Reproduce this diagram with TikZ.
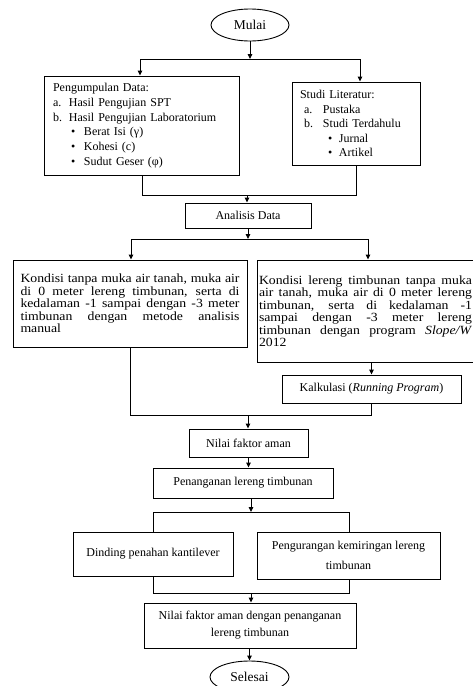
\documentclass[tikz,border=0pt]{standalone}
\usepackage{fontspec}
\setmainfont{Liberation Serif}
\newfontfamily\widefont{Liberation Serif}[FakeStretch=1.1]
\usetikzlibrary{shapes.geometric,arrows.meta}

\begin{document}
\begin{tikzpicture}[x=1pt,y=-1pt,
  line width=0.9pt,
  box/.style={draw, rectangle, inner sep=0pt, font=\fontsize{12}{14}\selectfont, align=center},
  term/.style={draw, ellipse, inner sep=0pt, font=\fontsize{13.5}{16}\selectfont},
  bigbox/.style={draw, rectangle, inner sep=0pt, text width=219pt, align=justify, font=\widefont\fontsize{12.5}{12.5}\selectfont},
  arr/.style={-{Triangle[length=5pt,width=4.5pt]}},
  ]
\useasboundingbox (0,0) rectangle (473,686);
\clip (0,0) rectangle (473,686);

\node[term, minimum width=78pt, minimum height=32pt] (mulai) at (250,25) {Mulai};

\node[box, minimum width=195pt, minimum height=99pt, text width=177pt, align=left,
      font=\fontsize{12}{14.7}\selectfont] (data) at (141.5,125.5)
 {Pengumpulan Data:\\
  \makebox[16pt][l]{a.}Hasil Pengujian SPT\\
  \makebox[16pt][l]{b.}Hasil Pengujian Laboratorium\\
  \hspace*{18pt}\makebox[13pt][l]{\textbullet}Berat Isi (γ)\\
  \hspace*{18pt}\makebox[13pt][l]{\textbullet}Kohesi (c)\\
  \hspace*{18pt}\makebox[13pt][l]{\textbullet}Sudut Geser (φ)};

\node[box, minimum width=128pt, minimum height=83pt, text width=112pt, align=left,
      font=\fontsize{12}{14.5}\selectfont] (lit) at (356,123.5)
 {Studi Literatur:\\
  \hspace*{4pt}\makebox[19pt][l]{a.}Pustaka\\
  \hspace*{4pt}\makebox[19pt][l]{b.}Studi Terdahulu\\
  \hspace*{28pt}\makebox[11pt][l]{\textbullet}Jurnal\\
  \hspace*{28pt}\makebox[11pt][l]{\textbullet}Artikel};

\node[box, minimum width=126pt, minimum height=25pt] (analisis) at (248,215.5) {Analisis Data};

\node[bigbox, minimum width=234pt, minimum height=87pt] (manual) at (130,303.5)
 {Kondisi tanpa muka air tanah, muka air\linebreak
  di 0 meter lereng timbunan, serta di\linebreak
  kedalaman -1 sampai dengan -3 meter\linebreak
  timbunan dengan metode analisis\linebreak
  manual};

\node[draw, rectangle, inner sep=0pt, minimum height=102pt,
      font=\widefont\fontsize{12.5}{12.5}\selectfont] (slope) at (369.5,311)
 {\hspace*{2pt}\begin{minipage}{213pt}
  Kondisi lereng timbunan tanpa muka\linebreak
  air tanah, muka air di 0 meter lereng\linebreak
  timbunan, serta di kedalaman -1\linebreak
  sampai dengan -3 meter lereng\linebreak
  timbunan dengan program \textit{Slope/W}\linebreak
  2012\end{minipage}\hspace*{10pt}};

\node[box, minimum width=179pt, minimum height=28pt] (kalk) at (371.5,389) {Kalkulasi (\textit{Running Program})};
\node[box, minimum width=119pt, minimum height=28pt] (nfa) at (248.5,443) {Nilai faktor aman};
\node[box, minimum width=180pt, minimum height=30pt] (pen) at (243,483) {Penanganan lereng timbunan};
\node[box, minimum width=160pt, minimum height=44pt] (dind) at (153,554) {Dinding penahan kantilever};
\node[box, minimum width=183pt, minimum height=47pt, font=\fontsize{12}{20}\selectfont] (peng) at (348.5,555.5)
 {Pengurangan kemiringan lereng\\timbunan};
\node[box, minimum width=212pt, minimum height=45pt, font=\fontsize{12}{17}\selectfont] (nfa2) at (250,625.5)
 {Nilai faktor aman dengan penanganan\\lereng timbunan};
\node[term, minimum width=79pt, minimum height=32pt] (selesai) at (249.5,677) {Selesai};

% split 1
\coordinate (j1) at (250,59);
\coordinate (j1l) at (140,59);
\coordinate (j1r) at (360,59);
\draw[arr] (mulai.south) -- (j1);
\draw (j1l) -- (j1r);
\draw[arr] (j1l) -- (j1l |- data.north);
\draw[arr] (j1r) -- (j1r |- lit.north);

% merge 1
\coordinate (j2) at (247,195);
\coordinate (j2l) at (142,195);
\coordinate (j2r) at (356,195);
\draw (j2l |- data.south) -- (j2l) -- (j2r) -- (j2r |- lit.south);
\draw[arr] (j2) -- (j2 |- analisis.north);

% split 2
\coordinate (j3) at (248,239);
\coordinate (j3l) at (131,239);
\coordinate (j3r) at (368,239);
\draw[arr] (analisis.south) -- (j3);
\draw (j3l) -- (j3r);
\draw[arr] (j3l) -- (j3l |- manual.north);
\draw[arr] (j3r) -- (j3r |- slope.north);

\draw[arr] (kalk.north |- slope.south) -- (kalk.north);

% merge 2
\coordinate (j4) at (248,415);
\coordinate (j4l) at (130,415);
\coordinate (j4r) at (371,415);
\draw (j4l |- manual.south) -- (j4l) -- (j4r) -- (j4r |- kalk.south);
\draw[arr] (j4) -- (j4 |- nfa.north);

\draw[arr] (nfa.south) -- (nfa.south |- pen.north);

% split 3
\coordinate (j5) at (251,512);
\coordinate (j5l) at (153,512);
\coordinate (j5r) at (349,512);
\draw[arr] (j5 |- pen.south) -- (j5);
\draw (j5l) -- (j5r);
\draw (j5l) -- (j5l |- dind.north);
\draw (j5r) -- (j5r |- peng.north);

% merge 3
\coordinate (j6) at (251,593);
\coordinate (j6l) at (153,593);
\coordinate (j6r) at (349,593);
\draw (j6l |- dind.south) -- (j6l) -- (j6r) -- (j6r |- peng.south);
\draw[arr] (j6) -- (j6 |- nfa2.north);

\draw[arr] (nfa2.south -| selesai.north) -- (selesai.north);
\end{tikzpicture}
\end{document}
